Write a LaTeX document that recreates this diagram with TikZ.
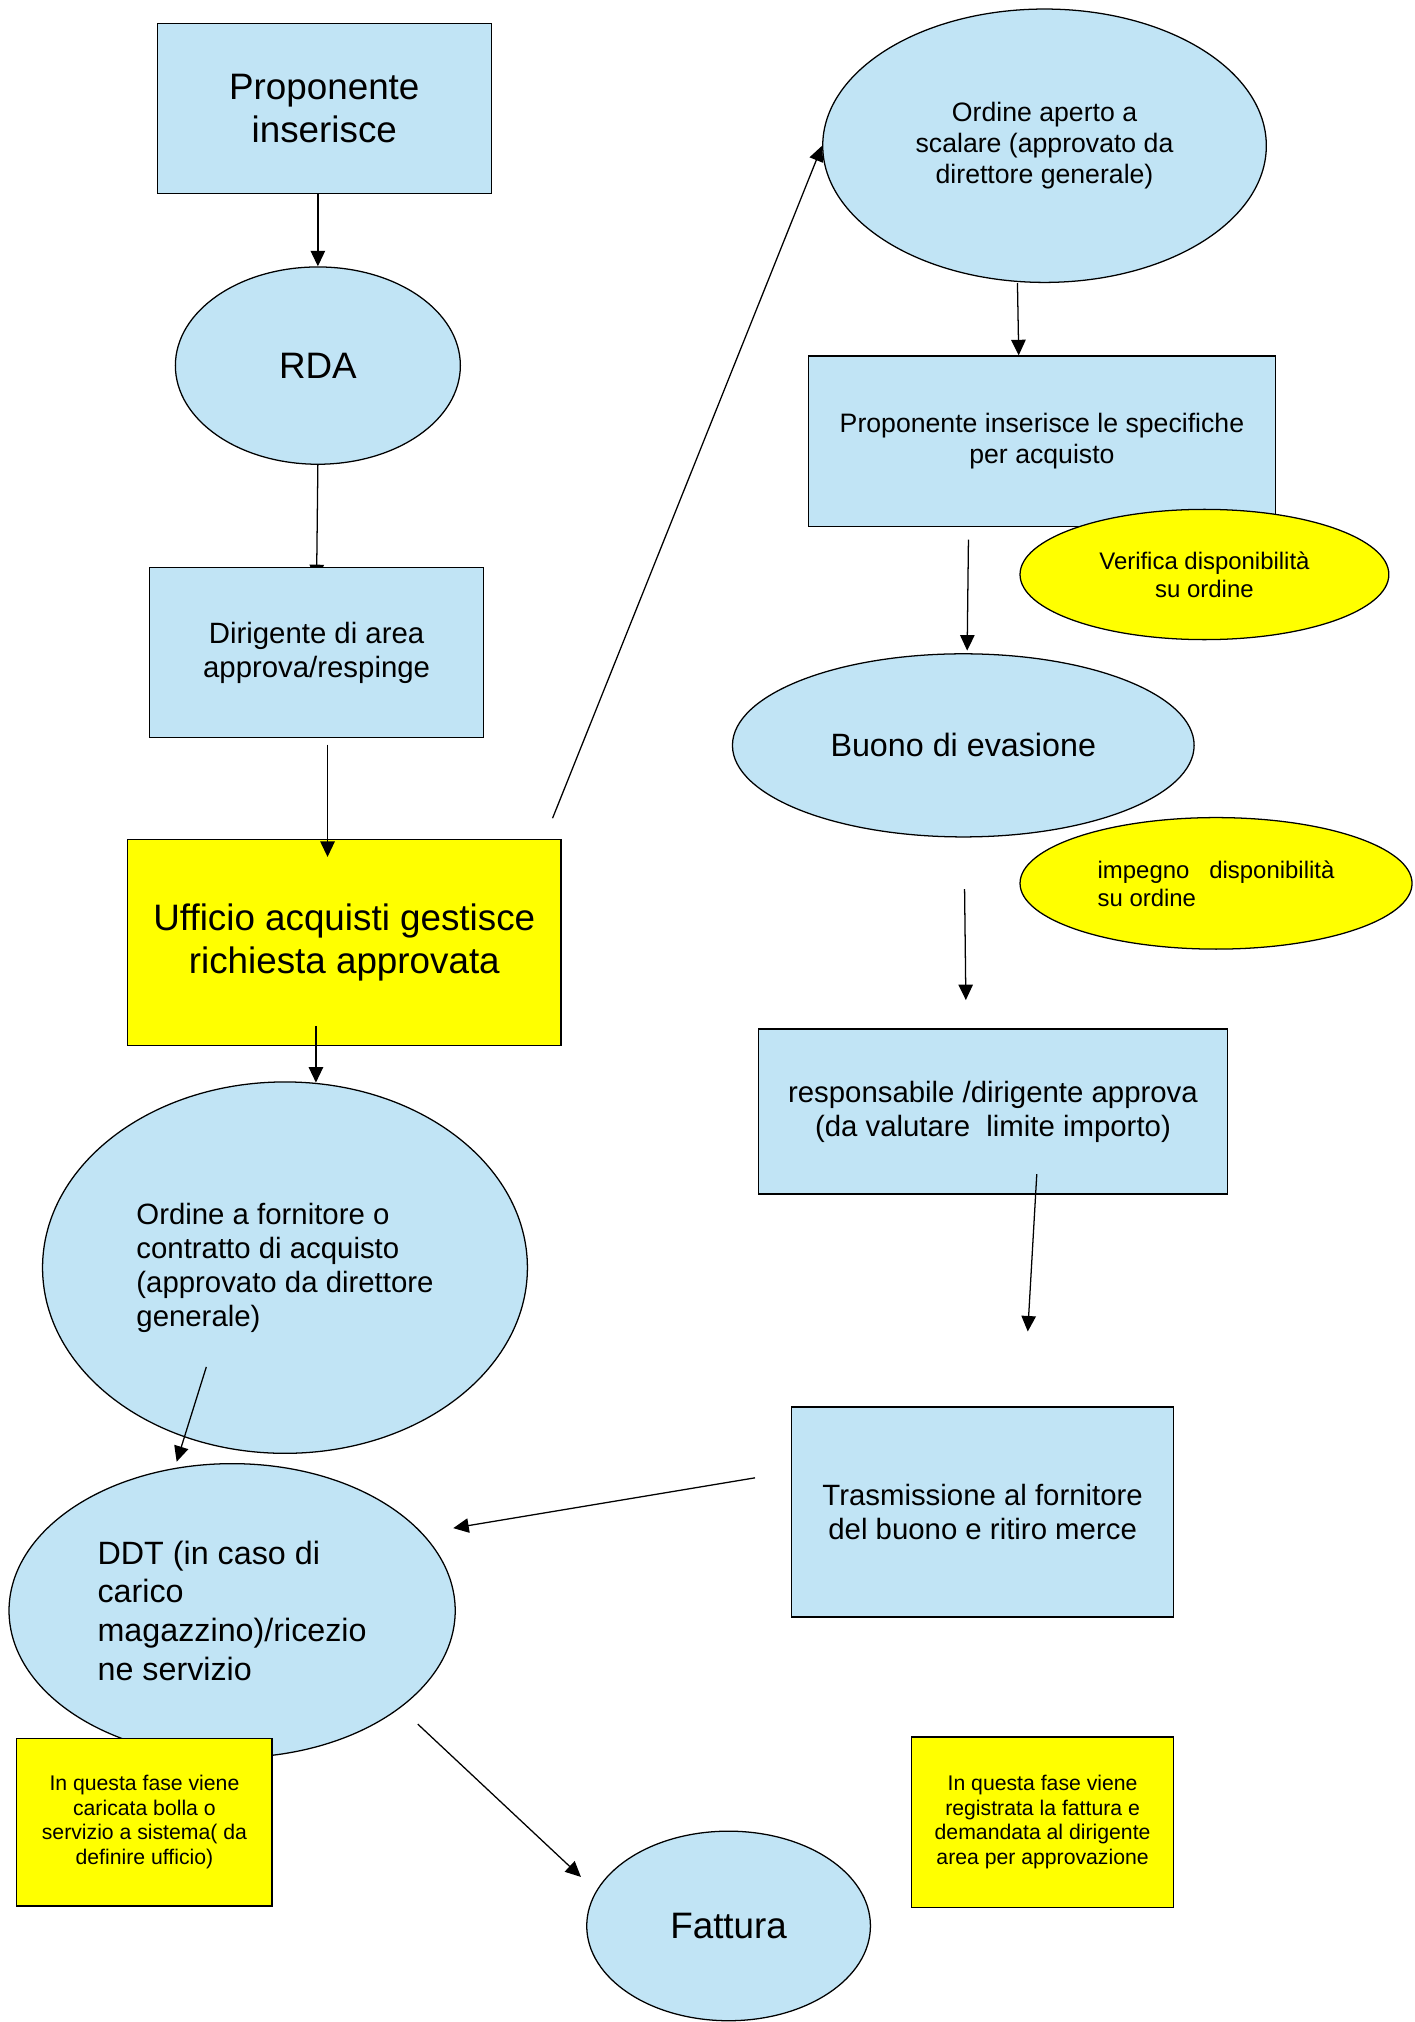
\documentclass[tikz,border=0pt]{standalone}
\usepackage{fontspec}
\setmainfont{Liberation Sans}
\usetikzlibrary{shapes.geometric,arrows.meta,calc,backgrounds}
\definecolor{paleblue}{RGB}{193,228,245}
\definecolor{noteyellow}{RGB}{255,255,0}

\begin{document}
\begin{tikzpicture}[x=0.25mm,y=-0.25mm,line width=0.7pt,
    box/.style 2 args={draw,fill=paleblue,minimum width=#1*0.25mm,
        minimum height=#2*0.25mm,inner sep=0pt,align=center},
    oval/.style 2 args={ellipse,draw,fill=paleblue,minimum width=#1*0.25mm,
        minimum height=#2*0.25mm,inner sep=0pt,align=center},
    fbig/.style={font=\fontsize{20.3}{23.5}\selectfont},
    fddt/.style={font=\fontsize{17.8}{21.3}\selectfont},
    fmid/.style={font=\fontsize{16.2}{18.8}\selectfont},
    fsma/.style={font=\fontsize{14.7}{16.9}\selectfont},
    fver/.style={font=\fontsize{13.2}{15.4}\selectfont},
    fnote/.style={font=\fontsize{11.7}{13.6}\selectfont},
    flow/.style={-{Triangle[length=3mm,width=2.8mm]}}]
    \useasboundingbox (0,0) rectangle (1097,1568);

    % left column
    \node[box={259}{132},fbig] (pro) at (251.5,84) {Proponente\\inserisce};
    \node[oval={221}{153},fbig] (rda) at (246.5,283.5) {RDA};
    \node[box={259}{132},fmid] (dir) at (245.5,506) {Dirigente di area\\approva/respinge};
    \node[box={336}{160},fbig,fill=noteyellow] (uff) at (267,731)
        {Ufficio acquisti gestisce\\richiesta approvata};
    \node[oval={376}{288},fmid,align=left] (ord) at (221,983)
        {Ordine a fornitore o\\contratto di acquisto\\(approvato da direttore\\generale)};
    \node[oval={346}{228},fddt,align=left] (ddt) at (180,1249)
        {DDT (in caso di\\carico\\magazzino)/ricezio\\ne servizio};
    \node[box={198}{130},fnote,fill=noteyellow] (bolla) at (112,1413)
        {In questa fase viene\\caricata bolla o\\servizio a sistema( da\\definire ufficio)};
    \node[oval={220}{147},fbig] (fat) at (565,1493.5) {Fattura};

    % right column
    \node[oval={344}{212},fsma] (oap) at (810,113)
        {Ordine aperto a\\scalare (approvato da\\direttore generale)};
    \node[box={362}{132},fsma] (spe) at (808,342)
        {Proponente inserisce le specifiche\\per acquisto};
    \node[oval={286}{101},fver,fill=noteyellow] (ver) at (934,445.5)
        {Verifica disponibilità\\su ordine};
    \node[oval={358}{142},fddt] (buo) at (747,578) {Buono di evasione};
    \node[oval={304}{102},fver,fill=noteyellow,align=left] (imp) at (943,685)
        {impegno\ \ \ disponibilità\\su ordine};
    \node[box={364}{128},fmid] (res) at (770,862)
        {responsabile /dirigente approva\\(da valutare \ limite importo)};
    \node[box={296}{163},fmid] (tra) at (762,1172.5)
        {Trasmissione al fornitore\\del buono e ritiro merce};
    \node[box={203}{132},fnote,fill=noteyellow] (fatnote) at (808.5,1413)
        {In questa fase viene\\registrata la fattura e\\demandata al dirigente\\area per approvazione};

    % connectors
    \draw[flow] (rda.north |- pro.south) -- (rda.north);
    \begin{scope}[on background layer]
        % tip hidden under the box, only its base shows
        \draw[flow,line width=0.7pt,black] (rda.south) -- ([yshift=-2.6mm]dir.north);
    \end{scope}
    \draw[flow] ($(uff.north)+(-13,-73)$) -- ($(uff.north)+(-13,14)$);
    \draw[flow] ($(uff.south)+(-22,-16)$) -- ($(ord.north)+(24,1)$);
    \draw[flow] ($(uff.north east)+(-7,-16)$) -- (oap.west);
    \draw[flow] ($(ord.center)+(-61,77)$) -- ($(ddt.north)+(-43,-1)$);
    \draw[flow] ($(ddt.center)+(144,88)$) -- ($(fat.west)+(-4,-38)$);
    \draw[flow] ($(oap.south)+(-21,0)$) -- ($(spe.north)+(-18,0)$);
    \draw[flow] ($(spe.south)+(-57,10)$) -- ($(buo.north)+(3,-2)$);
    \draw[flow] ($(buo.south)+(1,40)$) -- ($(res.north)+(-21,-22)$);
    \draw[flow] ($(res.south)+(34,-16)$) -- ($(tra.north)+(35,-58)$);
    \draw[flow] ($(tra.west)+(-28,-26.5)$) -- ($(ddt.east)+(-2,-64)$);
\end{tikzpicture}
\end{document}
